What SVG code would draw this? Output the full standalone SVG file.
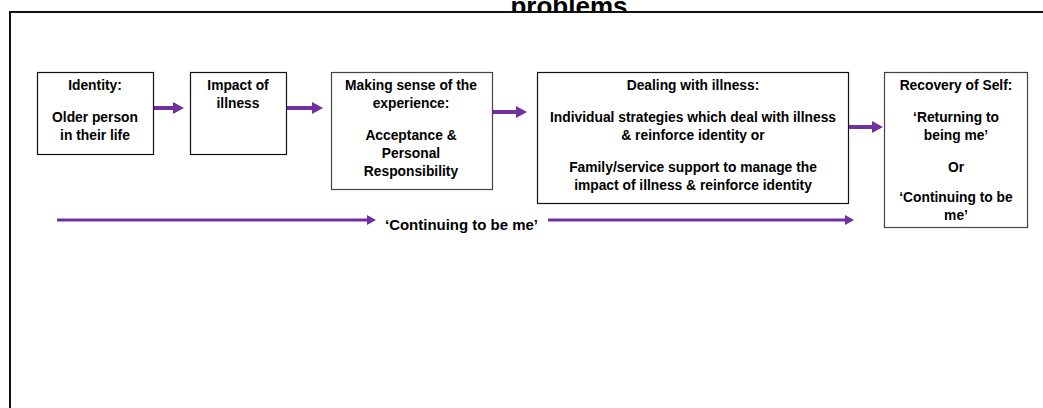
<svg xmlns="http://www.w3.org/2000/svg" width="1043" height="408" viewBox="0 0 1043 408">
<style>
text{font-family:"Liberation Sans",Arial,sans-serif;font-weight:bold;fill:#000;}
.t{font-size:13.8px;text-anchor:middle;}
.box{fill:#fff;stroke:#111;stroke-width:1.2;}
.ar{stroke:#7030A0;stroke-width:4;fill:none;}
.ar2{stroke:#7030A0;stroke-width:3;fill:none;}
</style>
<defs>
<marker id="h" markerUnits="userSpaceOnUse" markerWidth="11" markerHeight="12" refX="0" refY="6" orient="auto"><polygon points="0,0 11,6 0,12" fill="#7030A0"/></marker>
<marker id="h2" markerUnits="userSpaceOnUse" markerWidth="9" markerHeight="10" refX="0" refY="5" orient="auto"><polygon points="0,0 9,5 0,10" fill="#7030A0"/></marker>
</defs>
<rect width="1043" height="408" fill="#fff"/>
<text x="569" y="15" style="font-size:26px;text-anchor:middle;">problems</text>
<rect id="frame" x="10" y="12" width="1050" height="420" fill="#fff" stroke="#111" stroke-width="2"/>
<g id="connectors">
<line class="ar" x1="153" y1="108" x2="173" y2="108" marker-end="url(#h)"/>
<line class="ar" x1="287" y1="108" x2="312" y2="108" marker-end="url(#h)"/>
<line class="ar" x1="492" y1="112" x2="516" y2="112" marker-end="url(#h)"/>
<line class="ar" x1="849" y1="127" x2="872" y2="127" marker-end="url(#h)"/>
<line class="ar2" x1="57" y1="220" x2="367" y2="220" marker-end="url(#h2)"/>
<line class="ar2" x1="548" y1="220" x2="845" y2="220" marker-end="url(#h2)"/>
</g>
<text id="continuing" x="385" y="230" style="font-size:15px;" textLength="153" lengthAdjust="spacingAndGlyphs">‘Continuing to be me’</text>
<g id="identity">
<rect class="box" x="37.5" y="72.5" width="116" height="82"/>
<text class="t" x="95" y="90">Identity:</text>
<text class="t" x="95" y="122">Older person</text>
<text class="t" x="95" y="140">in their life</text>
</g>
<g id="impact">
<rect class="box" x="190.5" y="72.5" width="96" height="82"/>
<text class="t" x="238" y="90">Impact of</text>
<text class="t" x="238" y="108">illness</text>
</g>
<g id="making-sense">
<rect class="box" x="331.5" y="72.5" width="161" height="117" style="stroke:#444;"/>
<text class="t" x="411" y="90">Making sense of the</text>
<text class="t" x="411" y="108">experience:</text>
<text class="t" x="411" y="140">Acceptance &amp;</text>
<text class="t" x="411" y="158">Personal</text>
<text class="t" x="411" y="176">Responsibility</text>
</g>
<g id="dealing">
<rect class="box" x="537.5" y="72.5" width="311" height="131"/>
<text class="t" x="693" y="90">Dealing with illness:</text>
<text class="t" x="693" y="122">Individual strategies which deal with illness</text>
<text class="t" x="693" y="140">&amp; reinforce identity or</text>
<text class="t" x="693" y="172">Family/service support to manage the</text>
<text class="t" x="693" y="190">impact of illness &amp; reinforce identity</text>
</g>
<g id="recovery">
<rect class="box" x="884.5" y="72.5" width="143" height="155" style="stroke:#444;"/>
<text class="t" x="956" y="90">Recovery of Self:</text>
<text class="t" x="956" y="122">‘Returning to</text>
<text class="t" x="956" y="140">being me’</text>
<text class="t" x="956" y="172">Or</text>
<text class="t" x="956" y="202">‘Continuing to be</text>
<text class="t" x="956" y="220">me’</text>
</g>
</svg>
